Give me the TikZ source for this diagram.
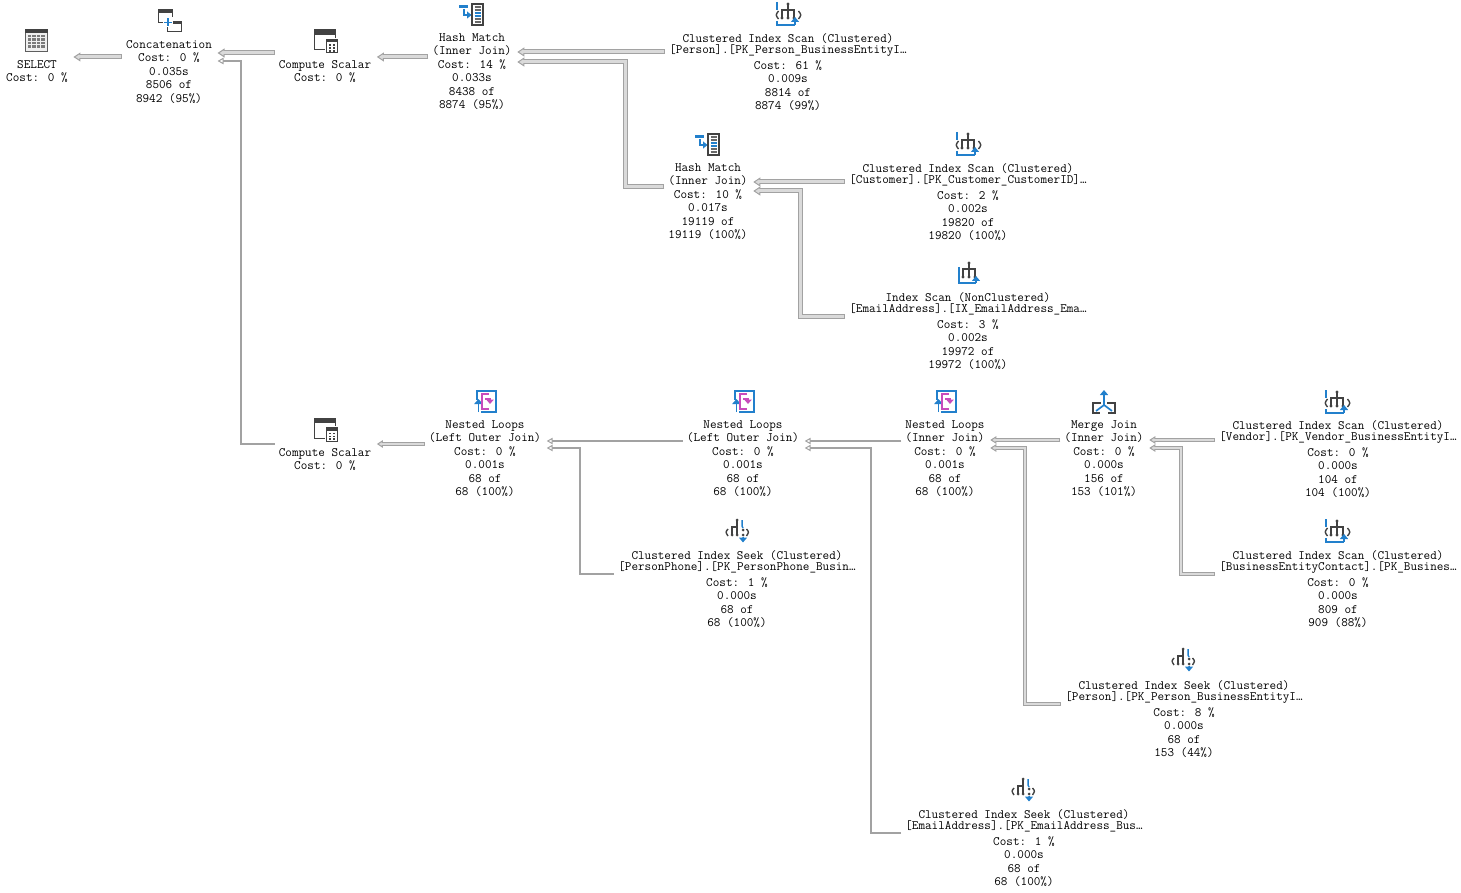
\documentclass[tikz,border=0pt]{standalone}
\usepackage{fontspec}
\usetikzlibrary{arrows.meta}
\definecolor{edgeline}{HTML}{A2A2A2}
\definecolor{edgefill}{HTML}{DADADA}
\definecolor{icondark}{HTML}{424242}
\definecolor{iconblue}{HTML}{2280CC}
\definecolor{iconpink}{HTML}{C84CBC}
\tikzset{
  opnode/.style={anchor=north, align=center, inner ysep=0pt, inner xsep=5.5pt,
    execute at begin node={\rule{0pt}{8.5pt}},
    font=\ttfamily\fontsize{12.8}{13.5}\selectfont\addfontfeature{FakeBold=0.8}},
  flowbig/.style={draw=edgeline, line width=5pt, shorten <=-1.5pt,
    -{Triangle[length=7pt,width=9pt,line width=1pt,fill=edgefill]},
    postaction={draw=edgefill, line width=3pt, -, shorten <=-0.5pt, shorten >=5pt}},
  flowmid/.style={draw=edgeline, line width=3.4pt, shorten <=-1.5pt,
    -{Triangle[length=6pt,width=7.5pt,line width=1pt,fill=edgefill]},
    postaction={draw=edgefill, line width=1.4pt, -, shorten <=-0.5pt, shorten >=4.5pt}},
  flowthin/.style={draw=edgeline, line width=2pt, shorten <=-1.5pt,
    -{Triangle[length=6pt,width=6.5pt,line width=1pt,fill=white]}},
  pics/selecticon/.style={code={
    \fill[white!94!black] (-11,-11) rectangle (11,11);
    \draw[icondark!85!white, line width=1pt] (-11,-11) rectangle (11,11);
    \fill[icondark] (-11.5,-11.5) rectangle (11.5,-7.5);
    \foreach \gx in {-9,-4.5,0,4.5}
      \foreach \gy in {-6,-2.5,1,4.5}
        \fill[icondark!70!white] (\gx,\gy) rectangle ++(3.6,2.4);
  }},
  pics/concaticon/.style={code={
    \draw[icondark, line width=1pt] (-2,1) rectangle (12,11);
    \fill[icondark] (-2,1) rectangle (12,3.5);
    \fill[white] (-11,-11) rectangle (3,2);
    \draw[icondark, line width=1pt] (-11,-11) rectangle (3,2);
    \fill[icondark] (-11,-11) rectangle (3,-8);
    \fill[white] (-6,-3.5) rectangle (4,6.5);
    \draw[iconblue, line width=1.8pt] (-5,1.5) -- (3,1.5) (-1,-2.5) -- (-1,5.5);
  }},
  pics/computeicon/.style={code={
    \draw[icondark, line width=1pt] (-11,-11) rectangle (10,9);
    \fill[icondark] (-11,-11) rectangle (10,-6);
    \fill[white] (0,-3) rectangle (13,13);
    \draw[icondark, line width=1pt] (1.5,-1.5) rectangle (12,12);
    \fill[icondark] (1.5,-1.5) rectangle (12,1.5);
    \foreach \gx in {3.5,7.5}
      \foreach \gy in {3.5,6.5,9}
        \fill[icondark] (\gx,\gy) rectangle ++(2,1.6);
  }},
  pics/hashicon/.style={code={
    \fill[iconblue] (-13,-9) rectangle (-4,-6);
    \draw[iconblue, line width=1.8pt, -{Triangle[length=4.5pt,width=7pt]}] (-8,-5) -- (-8,1) -- (-0.5,1);
    \draw[icondark, line width=1.2pt] (0,-10) rectangle (11,11);
    \foreach \gy in {-7,-4,5,8}
      \draw[icondark!80!white, line width=1.3pt] (2.5,\gy) -- (8.5,\gy);
    \foreach \gy in {-1,2}
      \draw[iconblue, line width=1.3pt] (2.5,\gy) -- (8.5,\gy);
  }},
  pics/treeicon/.style={code={
    \draw[icondark, line width=1.2pt] (0,-10) -- (0,4) (-6,4) -- (-6,-4) -- (6,-4) -- (6,4);
    \foreach \gx/\gy in {0/-10,-6/4,0/4,6/4}
      \fill[icondark] (\gx,\gy) circle (1.6);
  }},
  pics/scanicon/.style={code={
    \pic at (0,0) {treeicon};
    \draw[icondark, line width=1.4pt] (-9.5,-3) .. controls (-12.5,1) .. (-9.5,5) (10.5,-3) .. controls (13.5,1) .. (10.5,5);
    \draw[iconblue, line width=1.3pt] (-11,-12) -- (-11,-4) (-11,7) -- (-11,11) -- (7,11);
    \draw[iconblue, line width=1.8pt, -{Triangle[length=5pt,width=8pt]}] (7,11) -- (7,3);
  }},
  pics/indexicon/.style={code={
    \pic at (1,0) {treeicon};
    \draw[iconblue, line width=1.3pt] (-9,-6) -- (-9,10) -- (8,10);
    \draw[iconblue, line width=1.8pt, -{Triangle[length=5pt,width=8pt]}] (8,10) -- (8,3);
  }},
  pics/seekicon/.style={code={
    \draw[icondark, line width=1.2pt] (0,-11) -- (0,4) (-5,4) -- (-5,-4) -- (0,-4);
    \foreach \gx/\gy in {0/-11,-5/4,0/4,6/-1,6/4}
      \fill[icondark] (\gx,\gy) circle (1.5);
    \draw[icondark, line width=1.4pt] (-9,-2) .. controls (-11.5,1) .. (-9,5) (9.5,-2) .. controls (12,1) .. (9.5,5);
    \draw[iconblue, line width=1.5pt, -{Triangle[length=5pt,width=8pt]}] (5,-11) -- (5,-5) -- (6,-3) (6,6) -- (6,11.5);
  }},
  pics/loopicon/.style={code={
    \draw[iconblue, line width=1.3pt] (-8,-2) -- (-8,-11) -- (11,-11) -- (11,10) -- (-4,10);
    \draw[iconblue, line width=1.8pt, -{Triangle[length=5pt,width=8.5pt]}] (-6.5,10) -- (-6.5,-3);
    \draw[iconpink, line width=1.3pt] (4,-8) -- (-3,-8) -- (-3,7) -- (4,7);
    \draw[iconpink, line width=1.5pt, -{Triangle[length=4.5pt,width=7.5pt]}] (0,-3) -- (5,-3) -- (5,2);
  }},
  pics/mergeicon/.style={code={
    \draw[icondark, line width=1.5pt] (-3,1) -- (-11,1) -- (-11,11) -- (-4,11) (3,1) -- (11,1) -- (11,11) -- (4,11);
    \draw[iconblue, line width=1.7pt, -{Triangle[length=5pt,width=8pt]}] (0,3) -- (0,-12);
    \draw[iconblue, line width=1.7pt] (-8,9) -- (0,3) -- (8,9);
  }},
}
\begin{document}
\begin{tikzpicture}[x=1pt,y=-1pt]
\useasboundingbox (0,0) rectangle (1461,893);

% Operators
\node [opnode] (selectop) at (37,60) {SELECT\\Cost: 0 \%};
\node [opnode] (concatop) at (169,40) {Concatenation\\Cost: 0 \%\\0.035s\\8506 of\\8942 (95\%)};
\node [opnode] (computeone) at (325,60) {Compute Scalar\\Cost: 0 \%};
\node [opnode] (computetwo) at (325,448) {Compute Scalar\\Cost: 0 \%};
\node [opnode] (hashone) at (472,33) {Hash Match\\(Inner Join)\\Cost: 14 \%\\0.033s\\8438 of\\8874 (95\%)};
\node [opnode] (hashtwo) at (708,163) {Hash Match\\(Inner Join)\\Cost: 10 \%\\0.017s\\19119 of\\19119 (100\%)};
\node [opnode] (scanperson) at (788,33) {Clustered Index Scan (Clustered)\\[-2.5pt][Person].[PK\_Person\_BusinessEntityI…\\[2.5pt]Cost: 61 \%\\0.009s\\8814 of\\8874 (99\%)};
\node [opnode] (scancustomer) at (968,163) {Clustered Index Scan (Clustered)\\[-2.5pt][Customer].[PK\_Customer\_CustomerID]…\\[2.5pt]Cost: 2 \%\\0.002s\\19820 of\\19820 (100\%)};
\node [opnode] (scanemail) at (968,292) {Index Scan (NonClustered)\\[-2.5pt][EmailAddress].[IX\_EmailAddress\_Ema…\\[2.5pt]Cost: 3 \%\\0.002s\\19972 of\\19972 (100\%)};
\node [opnode] (loopone) at (485,420) {Nested Loops\\(Left Outer Join)\\Cost: 0 \%\\0.001s\\68 of\\68 (100\%)};
\node [opnode] (looptwo) at (743,420) {Nested Loops\\(Left Outer Join)\\Cost: 0 \%\\0.001s\\68 of\\68 (100\%)};
\node [opnode] (loopthree) at (945,420) {Nested Loops\\(Inner Join)\\Cost: 0 \%\\0.001s\\68 of\\68 (100\%)};
\node [opnode] (mergeop) at (1104,420) {Merge Join\\(Inner Join)\\Cost: 0 \%\\0.000s\\156 of\\153 (101\%)};
\node [opnode] (scanvendor) at (1338,420) {Clustered Index Scan (Clustered)\\[-2.5pt][Vendor].[PK\_Vendor\_BusinessEntityI…\\[2.5pt]Cost: 0 \%\\0.000s\\104 of\\104 (100\%)};
\node [opnode] (scancontact) at (1338,550) {Clustered Index Scan (Clustered)\\[-2.5pt][BusinessEntityContact].[PK\_Busines…\\[2.5pt]Cost: 0 \%\\0.000s\\809 of\\909 (88\%)};
\node [opnode] (seekphone) at (737,550) {Clustered Index Seek (Clustered)\\[-2.5pt][PersonPhone].[PK\_PersonPhone\_Busin…\\[2.5pt]Cost: 1 \%\\0.000s\\68 of\\68 (100\%)};
\node [opnode] (seekperson) at (1184,680) {Clustered Index Seek (Clustered)\\[-2.5pt][Person].[PK\_Person\_BusinessEntityI…\\[2.5pt]Cost: 8 \%\\0.000s\\68 of\\153 (44\%)};
\node [opnode] (seekemail) at (1024,809) {Clustered Index Seek (Clustered)\\[-2.5pt][EmailAddress].[PK\_EmailAddress\_Bus…\\[2.5pt]Cost: 1 \%\\0.000s\\68 of\\68 (100\%)};

% Icons
\pic at (36.5,41) {selecticon};
\pic at (169,21) {concaticon};
\pic at (325,41) {computeicon};
\pic at (325,429) {computeicon};
\pic at (472,14) {hashicon};
\pic at (708,144) {hashicon};
\pic at (788,14) {scanicon};
\pic at (968,144) {scanicon};
\pic at (968,273) {indexicon};
\pic at (485,402) {loopicon};
\pic at (743,402) {loopicon};
\pic at (945,402) {loopicon};
\pic at (1104,402) {mergeicon};
\pic at (1337,402) {scanicon};
\pic at (1337,531) {scanicon};
\pic at (737,531) {seekicon};
\pic at (1183,660) {seekicon};
\pic at (1023,790) {seekicon};

% Flujos gruesos
\draw [flowbig] (concatop.west |- 0,57) -- (selectop.east |- 0,57);
\draw [flowbig] (computeone.west |- 0,53) -- (concatop.east |- 0,53);
\draw [flowbig] (hashone.west |- 0,57) -- (computeone.east |- 0,57);
\draw [flowbig] (scanperson.west |- 0,52) -- (hashone.east |- 0,52);
\draw [flowbig] (hashtwo.west |- 0,187) -- (625,187) -- (625,62) -- (hashone.east |- 0,62);
\draw [flowbig] (scancustomer.west |- 0,182) -- (hashtwo.east |- 0,182);
\draw [flowbig] (scanemail.west |- 0,316) -- (800,316) -- (800,191) -- (hashtwo.east |- 0,191);

% Flujos medios
\draw [flowmid] (loopone.west |- 0,444) -- (computetwo.east |- 0,444);
\draw [flowmid] (mergeop.west |- 0,440) -- (loopthree.east |- 0,440);
\draw [flowmid] (seekperson.west |- 0,704) -- (1025,704) -- (1025,448) -- (loopthree.east |- 0,448);
\draw [flowmid] (scanvendor.west |- 0,440) -- (mergeop.east |- 0,440);
\draw [flowmid] (scancontact.west |- 0,574) -- (1181,574) -- (1181,448) -- (mergeop.east |- 0,448);

% Flujos finos
\draw [flowthin] (computetwo.west |- 0,444) -- (241,444) -- (241,61) -- (concatop.east |- 0,61);
\draw [flowthin] (looptwo.west |- 0,441) -- (loopone.east |- 0,441);
\draw [flowthin] (seekphone.west |- 0,574) -- (580,574) -- (580,448) -- (loopone.east |- 0,448);
\draw [flowthin] (loopthree.west |- 0,441) -- (looptwo.east |- 0,441);
\draw [flowthin] (seekemail.west |- 0,833) -- (871,833) -- (871,448) -- (looptwo.east |- 0,448);
\end{tikzpicture}
\end{document}
